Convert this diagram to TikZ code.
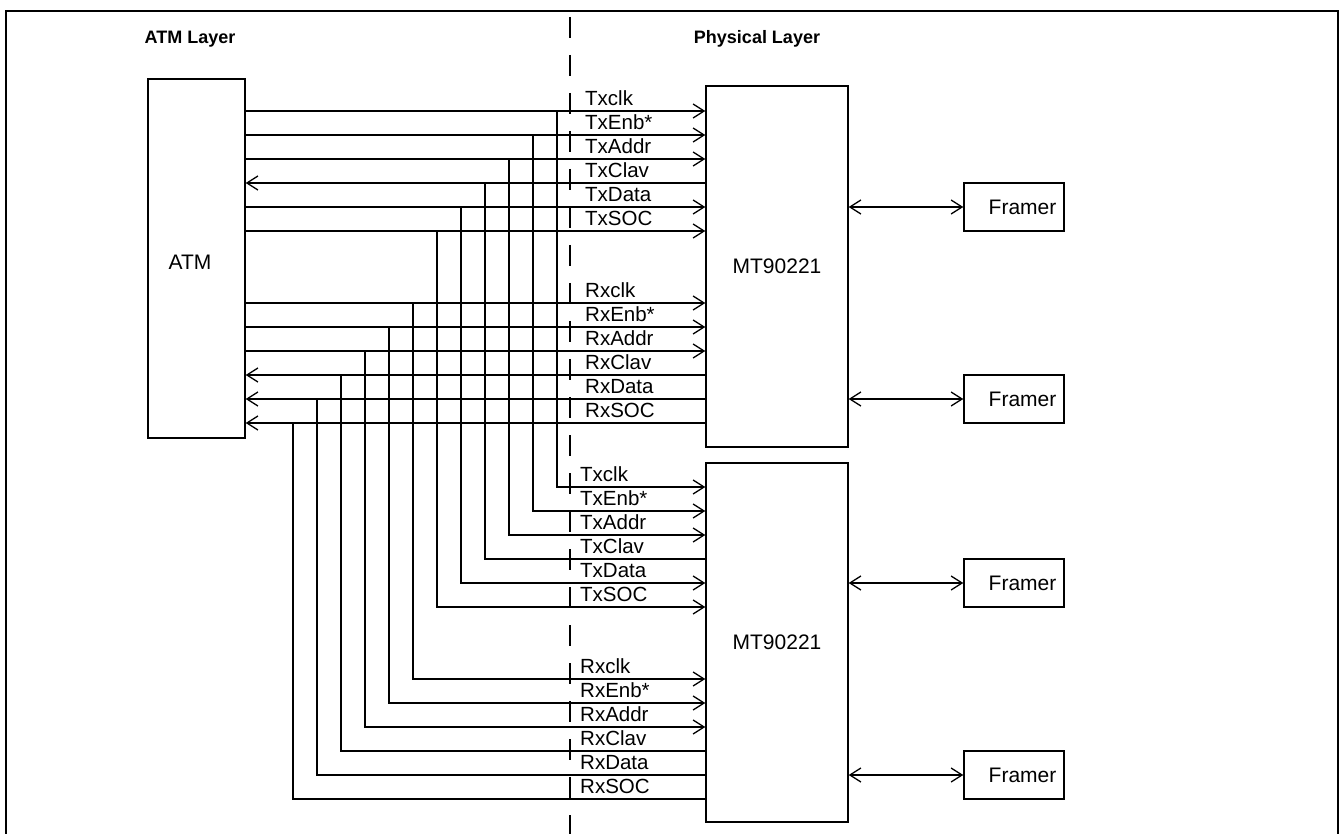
\documentclass[tikz,border=0pt]{standalone}
\usepackage{fontspec}
\setmainfont{Liberation Sans}
\usetikzlibrary{arrows.meta}
\begin{document}
\begin{tikzpicture}[x=1pt,y=-1pt,
  box/.style={draw, line width=1.4pt, inner sep=0pt, font=\fontsize{21}{25}\selectfont},
  wire/.style={line width=1.3pt},
  tipr/.style={-{Straight Barb[length=11pt,width=14pt,line width=1.3pt]}},
  tipl/.style={{Straight Barb[length=11pt,width=14pt,line width=1.3pt]}-},
  tipb/.style={{Straight Barb[length=11pt,width=14pt,line width=1.3pt]}-{Straight Barb[length=11pt,width=14pt,line width=1.3pt]}},
  topr/.style={tipr}, topl/.style={tipl},
  botr/.style={tipr}, botl/.style={},
  sig/.style={font=\fontsize{20.5}{24}\selectfont, inner sep=0pt, anchor=base west},
  head/.style={font=\bfseries\fontsize{18}{21}\selectfont, inner sep=0pt},
  lbl/.style={font=\fontsize{21}{25}\selectfont, inner sep=0pt}]
\useasboundingbox (0,0) rectangle (1339,834);
% frame
\draw[line width=2.8pt] (6,870) -- (6,11) -- (1338,11) -- (1338,870);
% layer divider
\draw[wire, dash pattern=on 21pt off 17pt] (570,17) -- (570,834);
\node[head] (hatm) at (190,39) {ATM Layer};
\node[head] (hphy) at (757,39) {Physical Layer};
% boxes
\node[box, minimum width=97pt, minimum height=359pt] (ATM) at (196.5,258.5) {};
\node[lbl] (atmtxt) at (190,262) {ATM};
\node[box, minimum width=142pt, minimum height=361pt] (MT1) at (777,266.5) {MT90221};
\node[box, minimum width=142pt, minimum height=359pt] (MT2) at (777,642.5) {MT90221};
\node[box, minimum width=100pt, minimum height=48pt] (F1) at (1014,207) {\hspace*{17pt}Framer};
\node[box, minimum width=100pt, minimum height=48pt] (F2) at (1014,399) {\hspace*{17pt}Framer};
\node[box, minimum width=100pt, minimum height=48pt] (F3) at (1014,583) {\hspace*{17pt}Framer};
\node[box, minimum width=100pt, minimum height=48pt] (F4) at (1014,775) {\hspace*{17pt}Framer};
\draw[wire, tipb] (MT1.east |- F1) -- (F1.west);
\draw[wire, tipb] (MT1.east |- F2) -- (F2.west);
\draw[wire, tipb] (MT2.east |- F3) -- (F3.west);
\draw[wire, tipb] (MT2.east |- F4) -- (F4.west);
% signals
\foreach \lab/\yt/\yb/\vx/\d [count=\i] in {
 Txclk/111/487/557/r, TxEnb*/135/511/533/r, TxAddr/159/535/509/r,
 TxClav/183/559/485/l, TxData/207/583/461/r, TxSOC/231/607/437/r,
 Rxclk/303/679/413/r, RxEnb*/327/703/389/r, RxAddr/351/727/365/r,
 RxClav/375/751/341/l, RxData/399/775/317/l, RxSOC/423/799/293/l}{
  \coordinate (yt\i) at (0,\yt);
  \coordinate (yb\i) at (0,\yb);
  \coordinate (vt\i) at (\vx,\yt);
  \draw[wire, top\d] (ATM.east |- yt\i) -- (MT1.west |- yt\i);
  \draw[wire, bot\d] (vt\i) -- (vt\i |- yb\i) -- (MT2.west |- yb\i);
  \node[sig] (lt\i) at (585,\yt-5.5) {\lab};
  \node[sig] (lb\i) at (580,\yb-5.5) {\lab};
}
\end{tikzpicture}
\end{document}
